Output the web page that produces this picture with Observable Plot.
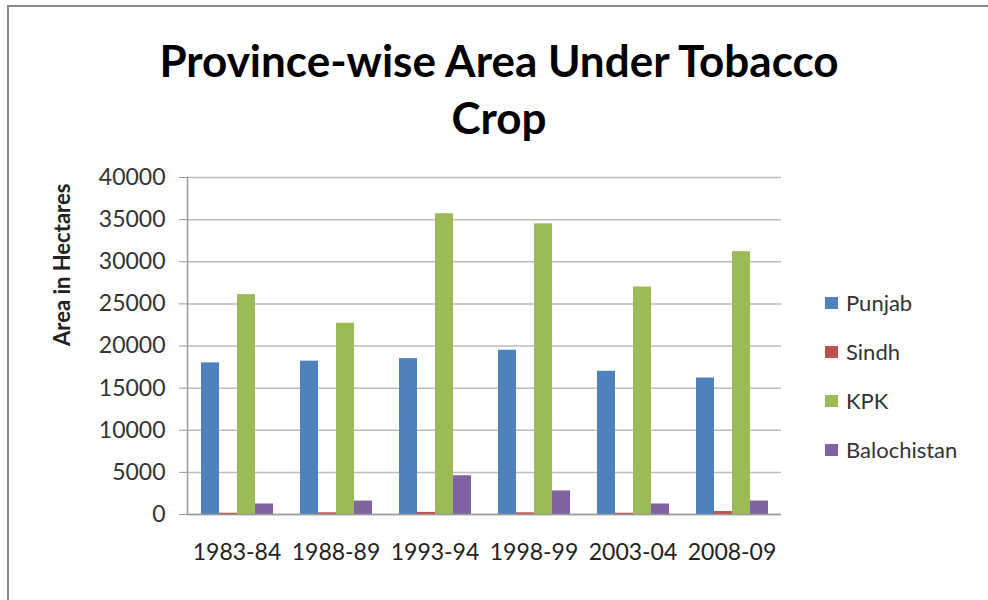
<!DOCTYPE html>
<html>
<head>
<meta charset="utf-8">
<script src="https://cdn.jsdelivr.net/npm/d3@7"></script>
<script src="https://cdn.jsdelivr.net/npm/@observablehq/plot@0.6"></script>
<style>
  html, body { margin: 0; padding: 0; background: #fff; }
  #wrap { position: relative; width: 988px; height: 600px; overflow: hidden; font-family: Lato, "Open Sans", sans-serif; }
  #border { position: absolute; left: 7px; top: 5px; width: 990px; height: 600px; border-top: 2px solid #8a8a8a; border-left: 2px solid #8a8a8a; }
  #title { height: 160px; text-align: center; font-weight: bold; font-size: 44px; line-height: 57px; color: #000; padding-top: 32px; box-sizing: border-box; padding-left: 10px; }
  #legend { position: absolute; left: 825px; top: 290px; }
  .row { height: 49px; display: flex; align-items: flex-start; font-size: 22px; color: #333; line-height: 26px; }
  .sw { width: 13px; height: 12px; margin-top: 7px; margin-right: 8px; }
</style>
</head>
<body>
<div id="wrap">
  <div id="border"></div>
  <div id="title">Province-wise Area Under Tobacco<br>Crop</div>
  <div id="chart"></div>
  <div id="legend"></div>
</div>
<script>
const years = ["1983-84", "1988-89", "1993-94", "1998-99", "2003-04", "2008-09"];
const provinces = ["Punjab", "Sindh", "KPK", "Balochistan"];
const colors = ["#4f81bd", "#c0504d", "#9bbb59", "#8064a2"];
const punjab = [18000, 18200, 18500, 19500, 17000, 16200];
const sindh = [150, 200, 250, 200, 150, 350];
const kpk = [26100, 22700, 35700, 34500, 27000, 31200];
const balochistan = [1250, 1600, 4600, 2800, 1250, 1600];
const yTicks = [0, 5000, 10000, 15000, 20000, 25000, 30000, 35000, 40000];
const yLabel = "Area in Hectares";

const series = [punjab, sindh, kpk, balochistan];
const data = [];
years.forEach((y, i) => provinces.forEach((p, j) => data.push({year: y, province: p, value: series[j][i]})));

const chart = Plot.plot({
  width: 988,
  height: 440,
  marginTop: 17,
  marginBottom: 86,
  marginLeft: 185,
  marginRight: 206,
  style: {fontFamily: "Lato, 'Open Sans', sans-serif", fontSize: "23px", color: "#333", background: "transparent"},
  fx: {domain: years, padding: 0, label: null},
  x: {domain: provinces, paddingInner: 0, paddingOuter: 0.69, axis: null},
  y: {domain: [0, 40000], ticks: yTicks, label: null},
  color: {domain: provinces, range: colors},
  marks: [
    Plot.gridY(yTicks, {stroke: "#bdbdbd", strokeOpacity: 1, strokeWidth: 1.5}),
    Plot.barY(data, {fx: "year", x: "province", y: "value", fill: "province"}),
    Plot.ruleY([0], {stroke: "#9a9a9a", strokeWidth: 1.5}),
    Plot.frame({anchor: "left", stroke: "#9a9a9a", strokeWidth: 1.5, facet: "super"}),
    Plot.axisY(yTicks, {tickSize: 8, tickPadding: 14, stroke: "#9a9a9a", fill: "#333", fontSize: 23, label: null, tickFormat: d => String(d)}),
    Plot.axisFx({anchor: "bottom", tickSize: 0, tickPadding: 29, fontSize: 23, fill: "#222", label: null}),
    Plot.text([yLabel], {text: d => d, frameAnchor: "left", dx: -125, rotate: -90, fontWeight: "bold", fontSize: 22, fill: "#222", facet: "super"})
  ]
});
document.getElementById("chart").appendChild(chart);

const legend = document.getElementById("legend");
provinces.forEach((p, i) => {
  const row = document.createElement("div");
  row.className = "row";
  const sw = document.createElement("div");
  sw.className = "sw";
  sw.style.background = colors[i];
  const lab = document.createElement("span");
  lab.textContent = p;
  row.appendChild(sw);
  row.appendChild(lab);
  legend.appendChild(row);
});
</script>
</body>
</html>
